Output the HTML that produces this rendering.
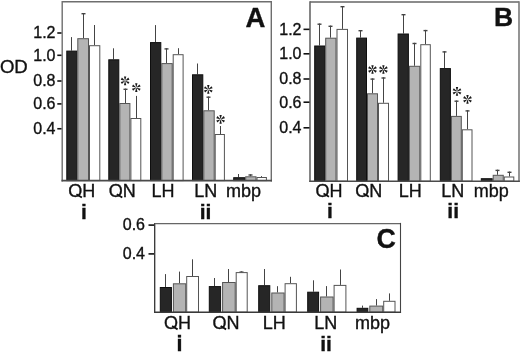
<!DOCTYPE html>
<html><head><meta charset="utf-8"><style>
html,body{margin:0;padding:0;background:#fff;}
svg{display:block;will-change:transform;filter:blur(0.3px);}
text{font-family:"Liberation Sans",sans-serif;fill:#111111;stroke:#111111;stroke-width:0.35px;}
</style></head><body>
<svg width="520" height="352" viewBox="0 0 520 352">
<rect width="520" height="352" fill="#fff"/>
<line x1="71.50" y1="50.60" x2="71.50" y2="37.10" stroke="#444444" stroke-width="1"/>
<rect x="66.80" y="51.10" width="10.00" height="129.50" fill="#262626" stroke="#0e0e0e" stroke-width="1"/>
<line x1="83.50" y1="38.20" x2="83.50" y2="13.00" stroke="#444444" stroke-width="1"/>
<line x1="81.50" y1="13.70" x2="85.50" y2="13.70" stroke="#444444" stroke-width="1.4"/>
<rect x="77.80" y="38.70" width="10.70" height="141.90" fill="#b4b4b4" stroke="#555555" stroke-width="1"/>
<line x1="94.50" y1="45.20" x2="94.50" y2="25.00" stroke="#444444" stroke-width="1"/>
<rect x="89.50" y="45.70" width="10.30" height="134.90" fill="#ffffff" stroke="#555555" stroke-width="1"/>
<line x1="113.50" y1="59.30" x2="113.50" y2="48.30" stroke="#444444" stroke-width="1"/>
<rect x="108.80" y="59.80" width="10.00" height="120.80" fill="#262626" stroke="#0e0e0e" stroke-width="1"/>
<line x1="125.50" y1="103.00" x2="125.50" y2="88.60" stroke="#444444" stroke-width="1"/>
<line x1="123.50" y1="89.30" x2="127.50" y2="89.30" stroke="#444444" stroke-width="1.4"/>
<rect x="119.80" y="103.50" width="10.10" height="77.10" fill="#b4b4b4" stroke="#555555" stroke-width="1"/>
<line x1="136.50" y1="118.00" x2="136.50" y2="95.90" stroke="#444444" stroke-width="1"/>
<rect x="130.90" y="118.50" width="9.90" height="62.10" fill="#ffffff" stroke="#555555" stroke-width="1"/>
<line x1="155.50" y1="42.10" x2="155.50" y2="25.10" stroke="#444444" stroke-width="1"/>
<rect x="150.50" y="42.60" width="10.30" height="138.00" fill="#262626" stroke="#0e0e0e" stroke-width="1"/>
<line x1="166.50" y1="63.10" x2="166.50" y2="48.20" stroke="#444444" stroke-width="1"/>
<line x1="164.50" y1="48.90" x2="168.50" y2="48.90" stroke="#444444" stroke-width="1.4"/>
<rect x="161.80" y="63.60" width="10.40" height="117.00" fill="#b4b4b4" stroke="#555555" stroke-width="1"/>
<line x1="178.50" y1="54.20" x2="178.50" y2="48.20" stroke="#444444" stroke-width="1"/>
<rect x="173.20" y="54.70" width="9.90" height="125.90" fill="#ffffff" stroke="#555555" stroke-width="1"/>
<line x1="197.50" y1="74.30" x2="197.50" y2="63.50" stroke="#444444" stroke-width="1"/>
<rect x="192.50" y="74.80" width="10.30" height="105.80" fill="#262626" stroke="#0e0e0e" stroke-width="1"/>
<line x1="208.50" y1="110.30" x2="208.50" y2="96.50" stroke="#444444" stroke-width="1"/>
<line x1="206.50" y1="97.20" x2="210.50" y2="97.20" stroke="#444444" stroke-width="1.4"/>
<rect x="203.80" y="110.80" width="10.40" height="69.80" fill="#b4b4b4" stroke="#555555" stroke-width="1"/>
<line x1="220.50" y1="134.00" x2="220.50" y2="126.00" stroke="#444444" stroke-width="1"/>
<rect x="215.20" y="134.50" width="9.20" height="46.10" fill="#ffffff" stroke="#555555" stroke-width="1"/>
<line x1="238.50" y1="177.20" x2="238.50" y2="174.00" stroke="#444444" stroke-width="1"/>
<rect x="233.70" y="177.70" width="11.00" height="2.90" fill="#262626" stroke="#0e0e0e" stroke-width="1"/>
<line x1="250.50" y1="176.30" x2="250.50" y2="174.30" stroke="#444444" stroke-width="1"/>
<line x1="248.50" y1="175.00" x2="252.50" y2="175.00" stroke="#444444" stroke-width="1.4"/>
<rect x="245.70" y="176.80" width="10.30" height="3.80" fill="#b4b4b4" stroke="#555555" stroke-width="1"/>
<line x1="261.50" y1="177.00" x2="261.50" y2="176.10" stroke="#444444" stroke-width="1"/>
<rect x="257.00" y="177.50" width="9.40" height="3.10" fill="#ffffff" stroke="#555555" stroke-width="1"/>
<line x1="62.2" y1="1.1" x2="62.2" y2="181.4" stroke="#6e6e6e" stroke-width="1.4"/>
<line x1="62.2" y1="1.8" x2="271.3" y2="1.8" stroke="#6e6e6e" stroke-width="1.4"/>
<line x1="271.3" y1="1.1" x2="271.3" y2="181.4" stroke="#6e6e6e" stroke-width="1.4"/>
<line x1="61.5" y1="180.6" x2="272.0" y2="180.6" stroke="#4a4a4a" stroke-width="1.6"/>
<line x1="57.3" y1="33" x2="61.5" y2="33" stroke="#111" stroke-width="1.6"/>
<text x="55.5" y="38.3" font-size="16" text-anchor="end" font-weight="normal">1.2</text>
<line x1="57.3" y1="55.3" x2="61.5" y2="55.3" stroke="#111" stroke-width="1.6"/>
<text x="55.5" y="60.599999999999994" font-size="16" text-anchor="end" font-weight="normal">1.0</text>
<line x1="57.3" y1="81" x2="61.5" y2="81" stroke="#111" stroke-width="1.6"/>
<text x="55.5" y="86.3" font-size="16" text-anchor="end" font-weight="normal">0.8</text>
<line x1="57.3" y1="103.9" x2="61.5" y2="103.9" stroke="#111" stroke-width="1.6"/>
<text x="55.5" y="109.2" font-size="16" text-anchor="end" font-weight="normal">0.6</text>
<line x1="57.3" y1="128.75" x2="61.5" y2="128.75" stroke="#111" stroke-width="1.6"/>
<text x="55.5" y="134.05" font-size="16" text-anchor="end" font-weight="normal">0.4</text>
<text x="-0.1" y="72.7" font-size="18.6" text-anchor="start" font-weight="normal">OD</text>
<text x="265.4" y="26.8" font-size="27.5" text-anchor="end" font-weight="bold">A</text>
<path d="M125.30,80.30L126.27,76.45L123.92,76.45L124.90,80.30ZM124.77,80.38L121.92,77.61L120.75,79.64L124.57,80.72ZM124.57,80.88L120.75,81.96L121.92,83.99L124.77,81.22ZM124.90,81.30L123.92,85.15L126.27,85.15L125.30,81.30ZM125.43,81.22L128.28,83.99L129.45,81.96L125.63,80.88ZM125.63,80.72L129.45,79.64L128.28,77.61L125.43,80.38Z" fill="#1a1a1a"/>
<path d="M136.50,87.10L137.48,83.25L135.12,83.25L136.10,87.10ZM135.97,87.18L133.12,84.41L131.95,86.44L135.77,87.52ZM135.77,87.68L131.95,88.76L133.12,90.79L135.97,88.02ZM136.10,88.10L135.12,91.95L137.48,91.95L136.50,88.10ZM136.63,88.02L139.48,90.79L140.65,88.76L136.83,87.68ZM136.83,87.52L140.65,86.44L139.48,84.41L136.63,87.18Z" fill="#1a1a1a"/>
<path d="M208.50,88.90L209.48,85.05L207.12,85.05L208.10,88.90ZM207.97,88.98L205.12,86.21L203.95,88.24L207.77,89.32ZM207.77,89.48L203.95,90.56L205.12,92.59L207.97,89.82ZM208.10,89.90L207.12,93.75L209.48,93.75L208.50,89.90ZM208.63,89.82L211.48,92.59L212.65,90.56L208.83,89.48ZM208.83,89.32L212.65,88.24L211.48,86.21L208.63,88.98Z" fill="#1a1a1a"/>
<path d="M220.80,118.80L221.78,114.95L219.42,114.95L220.40,118.80ZM220.27,118.88L217.42,116.11L216.25,118.14L220.07,119.22ZM220.07,119.38L216.25,120.46L217.42,122.49L220.27,119.72ZM220.40,119.80L219.42,123.65L221.78,123.65L220.80,119.80ZM220.93,119.72L223.78,122.49L224.95,120.46L221.13,119.38ZM221.13,119.22L224.95,118.14L223.78,116.11L220.93,118.88Z" fill="#1a1a1a"/>
<line x1="319.50" y1="45.50" x2="319.50" y2="23.50" stroke="#444444" stroke-width="1"/>
<line x1="317.50" y1="24.20" x2="321.50" y2="24.20" stroke="#444444" stroke-width="1.4"/>
<rect x="314.70" y="46.00" width="10.00" height="135.20" fill="#262626" stroke="#0e0e0e" stroke-width="1"/>
<line x1="330.50" y1="37.70" x2="330.50" y2="25.60" stroke="#444444" stroke-width="1"/>
<line x1="328.50" y1="26.30" x2="332.50" y2="26.30" stroke="#444444" stroke-width="1.4"/>
<rect x="325.70" y="38.20" width="10.30" height="143.00" fill="#b4b4b4" stroke="#555555" stroke-width="1"/>
<line x1="342.50" y1="28.90" x2="342.50" y2="6.00" stroke="#444444" stroke-width="1"/>
<line x1="340.50" y1="6.70" x2="344.50" y2="6.70" stroke="#444444" stroke-width="1.4"/>
<rect x="337.00" y="29.40" width="10.50" height="151.80" fill="#ffffff" stroke="#555555" stroke-width="1"/>
<line x1="360.50" y1="37.60" x2="360.50" y2="30.00" stroke="#444444" stroke-width="1"/>
<line x1="358.50" y1="30.70" x2="362.50" y2="30.70" stroke="#444444" stroke-width="1.4"/>
<rect x="356.70" y="38.10" width="9.80" height="143.10" fill="#262626" stroke="#0e0e0e" stroke-width="1"/>
<line x1="372.50" y1="93.30" x2="372.50" y2="78.40" stroke="#444444" stroke-width="1"/>
<line x1="370.50" y1="79.10" x2="374.50" y2="79.10" stroke="#444444" stroke-width="1.4"/>
<rect x="367.50" y="93.80" width="10.00" height="87.40" fill="#b4b4b4" stroke="#555555" stroke-width="1"/>
<line x1="383.50" y1="102.80" x2="383.50" y2="77.30" stroke="#444444" stroke-width="1"/>
<line x1="381.50" y1="78.00" x2="385.50" y2="78.00" stroke="#444444" stroke-width="1.4"/>
<rect x="378.50" y="103.30" width="10.00" height="77.90" fill="#ffffff" stroke="#555555" stroke-width="1"/>
<line x1="403.50" y1="33.50" x2="403.50" y2="14.00" stroke="#444444" stroke-width="1"/>
<line x1="401.50" y1="14.70" x2="405.50" y2="14.70" stroke="#444444" stroke-width="1.4"/>
<rect x="398.10" y="34.00" width="10.30" height="147.20" fill="#262626" stroke="#0e0e0e" stroke-width="1"/>
<line x1="414.50" y1="65.80" x2="414.50" y2="42.80" stroke="#444444" stroke-width="1"/>
<line x1="412.50" y1="43.50" x2="416.50" y2="43.50" stroke="#444444" stroke-width="1.4"/>
<rect x="409.40" y="66.30" width="10.40" height="114.90" fill="#b4b4b4" stroke="#555555" stroke-width="1"/>
<line x1="425.50" y1="44.20" x2="425.50" y2="29.90" stroke="#444444" stroke-width="1"/>
<line x1="423.50" y1="30.60" x2="427.50" y2="30.60" stroke="#444444" stroke-width="1.4"/>
<rect x="420.80" y="44.70" width="9.50" height="136.50" fill="#ffffff" stroke="#555555" stroke-width="1"/>
<line x1="444.50" y1="68.10" x2="444.50" y2="51.20" stroke="#444444" stroke-width="1"/>
<line x1="442.50" y1="51.90" x2="446.50" y2="51.90" stroke="#444444" stroke-width="1.4"/>
<rect x="440.30" y="68.60" width="10.10" height="112.60" fill="#262626" stroke="#0e0e0e" stroke-width="1"/>
<line x1="456.50" y1="115.90" x2="456.50" y2="100.50" stroke="#444444" stroke-width="1"/>
<line x1="454.50" y1="101.20" x2="458.50" y2="101.20" stroke="#444444" stroke-width="1.4"/>
<rect x="451.40" y="116.40" width="9.90" height="64.80" fill="#b4b4b4" stroke="#555555" stroke-width="1"/>
<line x1="467.50" y1="129.30" x2="467.50" y2="110.20" stroke="#444444" stroke-width="1"/>
<line x1="465.50" y1="110.90" x2="469.50" y2="110.90" stroke="#444444" stroke-width="1.4"/>
<rect x="462.30" y="129.80" width="9.70" height="51.40" fill="#ffffff" stroke="#555555" stroke-width="1"/>
<rect x="481.30" y="178.70" width="10.90" height="2.50" fill="#262626" stroke="#0e0e0e" stroke-width="1"/>
<line x1="497.50" y1="174.80" x2="497.50" y2="169.70" stroke="#444444" stroke-width="1"/>
<line x1="495.50" y1="170.40" x2="499.50" y2="170.40" stroke="#444444" stroke-width="1.4"/>
<rect x="493.20" y="175.30" width="10.05" height="5.90" fill="#b4b4b4" stroke="#555555" stroke-width="1"/>
<line x1="509.50" y1="176.50" x2="509.50" y2="171.60" stroke="#444444" stroke-width="1"/>
<line x1="507.50" y1="172.30" x2="511.50" y2="172.30" stroke="#444444" stroke-width="1.4"/>
<rect x="504.25" y="177.00" width="9.55" height="4.20" fill="#ffffff" stroke="#555555" stroke-width="1"/>
<line x1="310.0" y1="1.3" x2="310.0" y2="182.0" stroke="#444" stroke-width="1.3"/>
<line x1="310.0" y1="2.0" x2="519.0" y2="2.0" stroke="#666" stroke-width="1.4"/>
<line x1="519.0" y1="1.3" x2="519.0" y2="182.0" stroke="#7a7a7a" stroke-width="1.6"/>
<line x1="309.35" y1="181.2" x2="519.8" y2="181.2" stroke="#4a4a4a" stroke-width="1.6"/>
<line x1="303.5" y1="29.35" x2="309.5" y2="29.35" stroke="#111" stroke-width="1.6"/>
<text x="301.5" y="34.75" font-size="16" text-anchor="end" font-weight="normal">1.2</text>
<line x1="303.5" y1="53.8" x2="309.5" y2="53.8" stroke="#111" stroke-width="1.6"/>
<text x="301.5" y="59.199999999999996" font-size="16" text-anchor="end" font-weight="normal">1.0</text>
<line x1="303.5" y1="79" x2="309.5" y2="79" stroke="#111" stroke-width="1.6"/>
<text x="301.5" y="84.4" font-size="16" text-anchor="end" font-weight="normal">0.8</text>
<line x1="303.5" y1="102.2" x2="309.5" y2="102.2" stroke="#111" stroke-width="1.6"/>
<text x="301.5" y="107.60000000000001" font-size="16" text-anchor="end" font-weight="normal">0.6</text>
<line x1="303.5" y1="127.8" x2="309.5" y2="127.8" stroke="#111" stroke-width="1.6"/>
<text x="301.5" y="133.2" font-size="16" text-anchor="end" font-weight="normal">0.4</text>
<text x="513.2" y="26.3" font-size="26.5" text-anchor="end" font-weight="bold">B</text>
<path d="M372.70,69.00L373.68,65.15L371.32,65.15L372.30,69.00ZM372.17,69.08L369.32,66.31L368.15,68.34L371.97,69.42ZM371.97,69.58L368.15,70.66L369.32,72.69L372.17,69.92ZM372.30,70.00L371.32,73.85L373.68,73.85L372.70,70.00ZM372.83,69.92L375.68,72.69L376.85,70.66L373.03,69.58ZM373.03,69.42L376.85,68.34L375.68,66.31L372.83,69.08Z" fill="#1a1a1a"/>
<path d="M383.60,69.00L384.57,65.15L382.22,65.15L383.20,69.00ZM383.07,69.08L380.22,66.31L379.05,68.34L382.87,69.42ZM382.87,69.58L379.05,70.66L380.22,72.69L383.07,69.92ZM383.20,70.00L382.22,73.85L384.57,73.85L383.60,70.00ZM383.73,69.92L386.58,72.69L387.75,70.66L383.93,69.58ZM383.93,69.42L387.75,68.34L386.58,66.31L383.73,69.08Z" fill="#1a1a1a"/>
<path d="M457.20,90.90L458.18,87.05L455.82,87.05L456.80,90.90ZM456.67,90.98L453.82,88.21L452.65,90.24L456.47,91.32ZM456.47,91.48L452.65,92.56L453.82,94.59L456.67,91.82ZM456.80,91.90L455.82,95.75L458.18,95.75L457.20,91.90ZM457.33,91.82L460.18,94.59L461.35,92.56L457.53,91.48ZM457.53,91.32L461.35,90.24L460.18,88.21L457.33,90.98Z" fill="#1a1a1a"/>
<path d="M467.70,98.80L468.68,94.95L466.32,94.95L467.30,98.80ZM467.17,98.88L464.32,96.11L463.15,98.14L466.97,99.22ZM466.97,99.38L463.15,100.46L464.32,102.49L467.17,99.72ZM467.30,99.80L466.32,103.65L468.68,103.65L467.70,99.80ZM467.83,99.72L470.68,102.49L471.85,100.46L468.03,99.38ZM468.03,99.22L471.85,98.14L470.68,96.11L467.83,98.88Z" fill="#1a1a1a"/>
<line x1="165.50" y1="287.00" x2="165.50" y2="274.10" stroke="#444444" stroke-width="1"/>
<rect x="160.30" y="287.50" width="11.10" height="24.70" fill="#262626" stroke="#0e0e0e" stroke-width="1"/>
<line x1="179.50" y1="283.30" x2="179.50" y2="271.60" stroke="#444444" stroke-width="1"/>
<rect x="173.40" y="283.80" width="12.30" height="28.40" fill="#b4b4b4" stroke="#555555" stroke-width="1"/>
<line x1="192.50" y1="276.00" x2="192.50" y2="259.30" stroke="#444444" stroke-width="1"/>
<rect x="186.70" y="276.50" width="11.80" height="35.70" fill="#ffffff" stroke="#555555" stroke-width="1"/>
<line x1="214.50" y1="286.10" x2="214.50" y2="278.00" stroke="#444444" stroke-width="1"/>
<rect x="209.30" y="286.60" width="11.30" height="25.60" fill="#262626" stroke="#0e0e0e" stroke-width="1"/>
<line x1="228.50" y1="282.00" x2="228.50" y2="269.00" stroke="#444444" stroke-width="1"/>
<rect x="222.60" y="282.50" width="12.60" height="29.70" fill="#b4b4b4" stroke="#555555" stroke-width="1"/>
<line x1="241.50" y1="272.10" x2="241.50" y2="271.40" stroke="#444444" stroke-width="1"/>
<line x1="239.50" y1="272.10" x2="243.50" y2="272.10" stroke="#444444" stroke-width="1.4"/>
<rect x="236.20" y="272.60" width="11.00" height="39.60" fill="#ffffff" stroke="#555555" stroke-width="1"/>
<line x1="264.50" y1="285.20" x2="264.50" y2="269.00" stroke="#444444" stroke-width="1"/>
<rect x="258.70" y="285.70" width="11.10" height="26.50" fill="#262626" stroke="#0e0e0e" stroke-width="1"/>
<line x1="277.50" y1="292.50" x2="277.50" y2="286.20" stroke="#444444" stroke-width="1"/>
<rect x="271.80" y="293.00" width="12.30" height="19.20" fill="#b4b4b4" stroke="#555555" stroke-width="1"/>
<line x1="290.50" y1="283.20" x2="290.50" y2="276.80" stroke="#444444" stroke-width="1"/>
<rect x="285.10" y="283.70" width="11.30" height="28.50" fill="#ffffff" stroke="#555555" stroke-width="1"/>
<line x1="313.50" y1="291.70" x2="313.50" y2="280.30" stroke="#444444" stroke-width="1"/>
<rect x="307.70" y="292.20" width="10.90" height="20.00" fill="#262626" stroke="#0e0e0e" stroke-width="1"/>
<line x1="326.50" y1="296.50" x2="326.50" y2="286.10" stroke="#444444" stroke-width="1"/>
<rect x="320.60" y="297.00" width="12.50" height="15.20" fill="#b4b4b4" stroke="#555555" stroke-width="1"/>
<line x1="340.50" y1="284.90" x2="340.50" y2="269.50" stroke="#444444" stroke-width="1"/>
<rect x="334.10" y="285.40" width="11.80" height="26.80" fill="#ffffff" stroke="#555555" stroke-width="1"/>
<line x1="362.50" y1="307.80" x2="362.50" y2="305.60" stroke="#444444" stroke-width="1"/>
<rect x="357.10" y="308.30" width="10.70" height="3.90" fill="#262626" stroke="#0e0e0e" stroke-width="1"/>
<line x1="376.50" y1="305.60" x2="376.50" y2="299.10" stroke="#444444" stroke-width="1"/>
<rect x="369.80" y="306.10" width="12.90" height="6.10" fill="#b4b4b4" stroke="#555555" stroke-width="1"/>
<line x1="389.50" y1="300.80" x2="389.50" y2="293.40" stroke="#444444" stroke-width="1"/>
<rect x="383.70" y="301.30" width="11.30" height="10.90" fill="#ffffff" stroke="#555555" stroke-width="1"/>
<line x1="154.7" y1="222.9" x2="154.7" y2="312.9" stroke="#333" stroke-width="1.3"/>
<line x1="154.7" y1="223.6" x2="400.5" y2="223.6" stroke="#666" stroke-width="1.4"/>
<line x1="400.5" y1="222.9" x2="400.5" y2="312.9" stroke="#444" stroke-width="1.1"/>
<line x1="154.04999999999998" y1="312.2" x2="401.05" y2="312.2" stroke="#3a3a3a" stroke-width="1.4"/>
<line x1="148.5" y1="225.1" x2="154" y2="225.1" stroke="#111" stroke-width="1.6"/>
<text x="145" y="230.1" font-size="16" text-anchor="end" font-weight="normal">0.6</text>
<line x1="148.5" y1="253.9" x2="154" y2="253.9" stroke="#111" stroke-width="1.6"/>
<text x="145" y="258.9" font-size="16" text-anchor="end" font-weight="normal">0.4</text>
<text x="395.9" y="248.2" font-size="26.8" text-anchor="end" font-weight="bold">C</text>
<text x="81.8" y="197.3" font-size="18" text-anchor="middle" font-weight="normal">OH</text>
<line x1="76.40" y1="194.15" x2="81.89" y2="197.48" stroke="#111111" stroke-width="1.80"/>
<text x="122.2" y="197.3" font-size="18" text-anchor="middle" font-weight="normal">ON</text>
<line x1="116.80" y1="194.15" x2="122.29" y2="197.48" stroke="#111111" stroke-width="1.80"/>
<text x="162.9" y="197.3" font-size="18" text-anchor="middle" font-weight="normal">LH</text>
<text x="205.8" y="197.3" font-size="18" text-anchor="middle" font-weight="normal">LN</text>
<text x="243.4" y="197.3" font-size="18" text-anchor="middle" font-weight="normal">mbp</text>
<text x="328.9" y="196.6" font-size="18" text-anchor="middle" font-weight="normal">OH</text>
<line x1="323.50" y1="193.45" x2="328.99" y2="196.78" stroke="#111111" stroke-width="1.80"/>
<text x="368.7" y="196.6" font-size="18" text-anchor="middle" font-weight="normal">ON</text>
<line x1="363.30" y1="193.45" x2="368.79" y2="196.78" stroke="#111111" stroke-width="1.80"/>
<text x="410.3" y="196.6" font-size="18" text-anchor="middle" font-weight="normal">LH</text>
<text x="452.7" y="196.6" font-size="18" text-anchor="middle" font-weight="normal">LN</text>
<text x="491.3" y="196.6" font-size="18" text-anchor="middle" font-weight="normal">mbp</text>
<text x="177.5" y="329.2" font-size="18" text-anchor="middle" font-weight="normal">OH</text>
<line x1="172.10" y1="326.05" x2="177.59" y2="329.38" stroke="#111111" stroke-width="1.80"/>
<text x="226" y="329.2" font-size="18" text-anchor="middle" font-weight="normal">ON</text>
<line x1="220.60" y1="326.05" x2="226.09" y2="329.38" stroke="#111111" stroke-width="1.80"/>
<text x="274.3" y="329.2" font-size="18" text-anchor="middle" font-weight="normal">LH</text>
<text x="325.8" y="329.2" font-size="18" text-anchor="middle" font-weight="normal">LN</text>
<text x="372.4" y="329.2" font-size="18" text-anchor="middle" font-weight="normal">mbp</text>
<text x="83.9" y="218.6" font-size="21" text-anchor="middle" font-weight="bold">i</text>
<text x="205.6" y="218.6" font-size="21" text-anchor="middle" font-weight="bold">ii</text>
<text x="330" y="218.4" font-size="21" text-anchor="middle" font-weight="bold">i</text>
<text x="453.2" y="218.4" font-size="21" text-anchor="middle" font-weight="bold">ii</text>
<text x="179.5" y="350.6" font-size="21.5" text-anchor="middle" font-weight="bold">i</text>
<text x="326" y="350.6" font-size="21" text-anchor="middle" font-weight="bold">ii</text>
</svg>
</body></html>
